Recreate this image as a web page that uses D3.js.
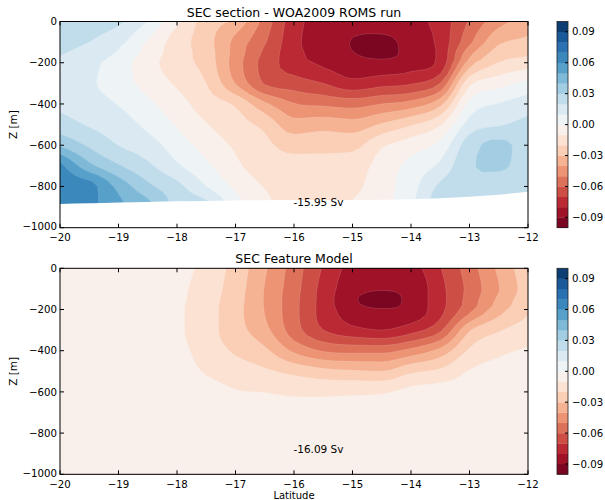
<!DOCTYPE html>
<html><head><meta charset="utf-8">
<script src="https://cdn.jsdelivr.net/npm/d3@7"></script>
<style>
body{margin:0;background:#fff}
svg{display:block}
text{font-family:"DejaVu Sans",sans-serif;fill:#000}
</style>
</head><body>
<svg id="chart" width="605" height="500"></svg>
<script>
// ---------------- data ----------------
const lats   = [-20,-19.5,-19,-18.5,-18,-17.5,-17,-16.5,-16,-15.5,-15,-14.5,-14,-13.5,-13,-12.5,-12];
const depths = [0,100,150,200,300,400,500,600,700,800,900,1000];
const levels = [-0.10,-0.09,-0.08,-0.07,-0.06,-0.05,-0.04,-0.03,-0.02,-0.01,0.00,0.01,0.02,0.03,0.04,0.05,0.06,0.07,0.08,0.09,0.10];
const xTicks = [-20,-19,-18,-17,-16,-15,-14,-13,-12];
const yTicks = [0,-200,-400,-600,-800,-1000];
const cbTicks = [0.09,0.06,0.03,0.00,-0.03,-0.06,-0.09];
const titles = ["SEC section - WOA2009 ROMS run","SEC Feature Model"];
const transports = ["-15.95 Sv","-16.09 Sv"];

// ROMS run velocity section (rows = depths, cols = lats)
const romsField = [
 [0.028,0.026,0.022,0.0095,-0.0085,-0.025,-0.033,-0.054,-0.076,-0.084,-0.087,-0.0865,-0.0835,-0.076,-0.059,-0.044,-0.035],
 [0.024,0.020,0.013,-0.001,-0.015,-0.026,-0.043,-0.059,-0.077,-0.086,-0.0903,-0.0915,-0.087,-0.077,-0.0525,-0.032,-0.028],
 [0.021,0.0165,0.009,-0.0035,-0.0155,-0.025,-0.044,-0.062,-0.0765,-0.085,-0.0898,-0.092,-0.0872,-0.0775,-0.044,-0.026,-0.022],
 [0.018,0.013,0.005,-0.006,-0.016,-0.024,-0.045,-0.064,-0.075,-0.082,-0.086,-0.0875,-0.0845,-0.077,-0.035,-0.0195,-0.015],
 [0.015,0.0115,0.0045,-0.0035,-0.0115,-0.020,-0.0405,-0.061,-0.0655,-0.070,-0.077,-0.0735,-0.071,-0.060,-0.0125,-0.004,0.003],
 [0.018,0.015,0.0095,0.002,-0.006,-0.015,-0.0215,-0.038,-0.0495,-0.052,-0.054,-0.050,-0.046,-0.033,0.003,0.0105,0.015],
 [0.0245,0.019,0.015,0.0075,-0.001,-0.0095,-0.016,-0.023,-0.036,-0.034,-0.036,-0.029,-0.021,-0.011,0.014,0.019,0.023],
 [0.039,0.0285,0.0198,0.0145,0.005,-0.004,-0.0115,-0.0175,-0.024,-0.0235,-0.023,-0.0115,-0.005,0.003,0.026,0.032,0.026],
 [0.063,0.043,0.031,0.022,0.0115,0.002,-0.008,-0.015,-0.016,-0.016,-0.015,-0.006,0.003,0.012,0.029,0.031,0.0265],
 [0.066,0.0635,0.047,0.0325,0.023,0.010,-0.002,-0.0105,-0.014,-0.013,-0.012,-0.0045,0.006,0.022,0.027,0.027,0.026],
 [0.066,0.063,0.052,0.043,0.027,0.023,0.004,-0.008,-0.012,-0.0105,-0.0095,-0.0035,0.0075,0.025,0.026,0.026,0.0255],
 [0.066,0.063,0.052,0.043,0.027,0.023,0.004,-0.008,-0.012,-0.0105,-0.0095,-0.0035,0.0075,0.025,0.026,0.026,0.0255]
];
// ROMS bottom depth (m) along the section
const romsBottom = [885,882,878,875,872,870,868,867,866,866,866,865,862,857,850,840,826];

// SEC feature model section
const modelField = [
 [-0.0005,-0.001,-0.002,-0.0035,-0.006,-0.0135,-0.0237,-0.0387,-0.0547,-0.071,-0.084,-0.0875,-0.0845,-0.0706,-0.055,-0.0381,-0.023],
 [-0.0005,-0.0013,-0.0025,-0.0045,-0.0075,-0.015,-0.025,-0.0405,-0.056,-0.0735,-0.0865,-0.0895,-0.0875,-0.073,-0.057,-0.0405,-0.0245],
 [-0.0005,-0.0014,-0.0028,-0.005,-0.008,-0.0155,-0.0258,-0.0408,-0.0568,-0.074,-0.0886,-0.0925,-0.0875,-0.0735,-0.056,-0.038,-0.023],
 [-0.0005,-0.0015,-0.003,-0.0055,-0.0085,-0.016,-0.0265,-0.0405,-0.057,-0.074,-0.086,-0.0895,-0.087,-0.073,-0.053,-0.034,-0.0215],
 [-0.0005,-0.0015,-0.003,-0.0055,-0.0085,-0.016,-0.026,-0.037,-0.0555,-0.070,-0.077,-0.080,-0.074,-0.062,-0.031,-0.021,-0.015],
 [-0.0005,-0.0013,-0.0025,-0.0045,-0.007,-0.0145,-0.0215,-0.028,-0.042,-0.051,-0.053,-0.053,-0.047,-0.037,-0.0185,-0.012,-0.009],
 [-0.0005,-0.001,-0.002,-0.0035,-0.005,-0.011,-0.015,-0.0185,-0.023,-0.027,-0.029,-0.030,-0.022,-0.018,-0.0095,-0.007,-0.006],
 [-0.0005,-0.0008,-0.0015,-0.0025,-0.0035,-0.006,-0.0095,-0.0102,-0.0115,-0.012,-0.0115,-0.011,-0.0075,-0.006,-0.0055,-0.0045,-0.0045],
 [-0.0005,-0.0007,-0.0012,-0.002,-0.0025,-0.004,-0.0065,-0.007,-0.0075,-0.007,-0.007,-0.0065,-0.005,-0.004,-0.004,-0.0035,-0.0035],
 [-0.0005,-0.0006,-0.001,-0.0015,-0.002,-0.003,-0.0045,-0.005,-0.0055,-0.0055,-0.005,-0.005,-0.004,-0.003,-0.003,-0.0025,-0.0025],
 [-0.0005,-0.0005,-0.0008,-0.0012,-0.0015,-0.0025,-0.0035,-0.004,-0.0045,-0.0045,-0.004,-0.004,-0.0035,-0.0025,-0.0025,-0.002,-0.002],
 [-0.0005,-0.0005,-0.0007,-0.001,-0.001,-0.002,-0.003,-0.0035,-0.004,-0.004,-0.0035,-0.0035,-0.003,-0.002,-0.002,-0.0015,-0.0015]
];

// ---------------- rendering helpers ----------------
const rdbu = ["#67001f","#b2182b","#d6604d","#f4a582","#fddbc7","#f7f7f7","#d1e5f0","#92c5de","#4393c3","#2166ac","#053061"];
function cmap(t){
  const s = Math.max(0,Math.min(1,t))*10, i = Math.min(9,Math.floor(s)), f = s - i;
  return d3.interpolateRgb(rdbu[i], rdbu[i+1])(f);
}
const nBands = levels.length - 1;
const bandColor = d3.range(nBands).map(k => cmap((k+0.5)/nBands));

// monotone cubic (Fritsch-Carlson) resampling used only to draw smooth contour outlines
const UP = 4;
function monoResample(ys){
  const n = ys.length, d = [], m = new Array(n);
  for (let k = 0; k < n-1; k++) d.push(ys[k+1]-ys[k]);
  m[0] = d[0]; m[n-1] = d[n-2];
  for (let k = 1; k < n-1; k++) m[k] = (d[k-1]*d[k] <= 0) ? 0 : (d[k-1]+d[k])/2;
  for (let k = 0; k < n-1; k++){
    if (d[k] === 0){ m[k] = 0; m[k+1] = 0; continue; }
    const a = m[k]/d[k], b = m[k+1]/d[k], s = a*a + b*b;
    if (s > 9){ const t = 3/Math.sqrt(s); m[k] = t*a*d[k]; m[k+1] = t*b*d[k]; }
  }
  const out = [];
  for (let k = 0; k < n-1; k++){
    for (let j = 0; j < UP; j++){
      const t = j/UP, t2 = t*t, t3 = t2*t;
      out.push((2*t3-3*t2+1)*ys[k] + (t3-2*t2+t)*m[k] + (-2*t3+3*t2)*ys[k+1] + (t3-t2)*m[k+1]);
    }
  }
  out.push(ys[n-1]);
  return out;
}
function fineGrid(field){
  const rows = field.map(monoResample);           // along latitude
  const nxf = rows[0].length, cols = [];
  for (let i = 0; i < nxf; i++) cols.push(monoResample(rows.map(r => r[i]))); // along depth
  const nyf = cols[0].length, vals = new Array(nxf*nyf);
  for (let j = 0; j < nyf; j++) for (let i = 0; i < nxf; i++) vals[j*nxf+i] = cols[i][j];
  return {nxf, nyf, vals};
}

const svg = d3.select("#chart");
const X0 = 60, X1 = 528;
const panels = [
  {y0:21.5, y1:227.7, field:romsField, bottom:romsBottom, title:titles[0], label:transports[0], showXLabel:false},
  {y0:268.3, y1:474.3, field:modelField, bottom:null, title:titles[1], label:transports[1], showXLabel:true}
];
const x = d3.scaleLinear().domain([lats[0], lats[lats.length-1]]).range([X0, X1]);
const FS = 10.2;

panels.forEach((p, pi) => {
  const y = d3.scaleLinear().domain([-1000, 0]).range([p.y1, p.y0]);
  const g = svg.append("g");
  const clipId = "clip" + pi;
  svg.append("clipPath").attr("id", clipId).append("rect")
    .attr("x", X0).attr("y", p.y0).attr("width", X1 - X0).attr("height", p.y1 - p.y0);

  const ny = depths.length;
  const fg = fineGrid(p.field);
  const contours = d3.contours().size([fg.nxf, fg.nyf]).thresholds(levels.slice(0, -1))(fg.vals);

  function proj(pt){
    const gx = (pt[0] - 0.5)/UP, gy = (pt[1] - 0.5)/UP;
    const lat = lats[0] + gx * (lats[1] - lats[0]);
    let d;
    if (gy <= 0) d = depths[0] + gy * (depths[1] - depths[0]);
    else if (gy >= ny - 1) d = depths[ny-1] + (gy - (ny-1)) * (depths[ny-1] - depths[ny-2]);
    else { const i = Math.floor(gy), f = gy - i; d = depths[i] + f * (depths[i+1] - depths[i]); }
    return [x(lat), y(-d)];
  }
  function pathOf(geom){
    let s = "";
    geom.coordinates.forEach(poly => poly.forEach(ring => {
      ring.forEach((pt, i) => { const q = proj(pt); s += (i ? "L" : "M") + q[0].toFixed(2) + "," + q[1].toFixed(2); });
      s += "Z";
    }));
    return s;
  }
  const cg = g.append("g").attr("clip-path", `url(#${clipId})`);
  contours.forEach((c, k) => {
    cg.append("path").attr("d", pathOf(c)).attr("fill", bandColor[k]).attr("fill-rule", "evenodd")
      .attr("stroke", bandColor[k]).attr("stroke-width", 0.3);
  });
  // faint seams between filled levels, as in the reference
  contours.forEach((c, k) => {
    if (k === 0) return;
    cg.append("path").attr("d", pathOf(c)).attr("fill", "none")
      .attr("stroke", "#ffffff").attr("stroke-opacity", 0.22).attr("stroke-width", 0.6);
  });

  // masked region below the bottom
  if (p.bottom) {
    const area = d3.area().x((d, i) => x(lats[i])).y0(y(-1000) + 2).y1(d => y(-d)).curve(d3.curveMonotoneX);
    cg.append("path").attr("d", area(p.bottom)).attr("fill", "#fff");
  }

  // frame
  g.append("rect").attr("x", X0).attr("y", p.y0).attr("width", X1 - X0).attr("height", p.y1 - p.y0)
    .attr("fill", "none").attr("stroke", "#000").attr("stroke-width", 1);

  // ticks (inward on all sides)
  const tl = 4;
  xTicks.forEach(v => {
    const xx = x(v);
    g.append("line").attr("x1", xx).attr("x2", xx).attr("y1", p.y1).attr("y2", p.y1 - tl).attr("stroke", "#000");
    g.append("line").attr("x1", xx).attr("x2", xx).attr("y1", p.y0).attr("y2", p.y0 + tl).attr("stroke", "#000");
    g.append("text").attr("x", xx).attr("y", p.y1 + 13.3).attr("text-anchor", "middle").attr("font-size", FS)
      .text(String(v).replace("-", "\u2212"));
  });
  yTicks.forEach(v => {
    const yy = y(v);
    g.append("line").attr("x1", X0).attr("x2", X0 + tl).attr("y1", yy).attr("y2", yy).attr("stroke", "#000");
    g.append("line").attr("x1", X1).attr("x2", X1 - tl).attr("y1", yy).attr("y2", yy).attr("stroke", "#000");
    g.append("text").attr("x", X0 - 3).attr("y", yy + (v === -1000 ? 2.5 : 3.6)).attr("text-anchor", "end").attr("font-size", FS)
      .text(String(v).replace("-", "\u2212"));
  });

  // title, labels, annotation
  g.append("text").attr("x", (X0 + X1) / 2).attr("y", p.y0 - 5).attr("text-anchor", "middle").attr("font-size", 12.5).text(p.title);
  g.append("text").attr("transform", `translate(17,${(p.y0 + p.y1) / 2}) rotate(-90)`).attr("text-anchor", "middle")
    .attr("font-size", 10.5).text("Z [m]");
  g.append("text").attr("x", x(-16.01)).attr("y", y(-900) - 0.8).attr("font-size", 10.5).text(p.label);
  if (p.showXLabel) g.append("text").attr("x", (X0 + X1) / 2).attr("y", 499.3).attr("text-anchor", "middle").attr("font-size", 10).text("Latitude");

  // colorbar
  const cbX = 557, cbW = 11;
  const cy = d3.scaleLinear().domain([levels[0], levels[levels.length-1]]).range([p.y1, p.y0]);
  const cb = svg.append("g");
  d3.range(nBands).forEach(k => {
    cb.append("rect").attr("x", cbX).attr("width", cbW)
      .attr("y", cy(levels[k+1])).attr("height", cy(levels[k]) - cy(levels[k+1]) + 0.3)
      .attr("fill", bandColor[k]);
  });
  cb.append("rect").attr("x", cbX).attr("y", p.y0).attr("width", cbW).attr("height", p.y1 - p.y0)
    .attr("fill", "none").attr("stroke", "#222").attr("stroke-width", 0.8);
  cbTicks.forEach(v => {
    const yy = cy(v);
    cb.append("line").attr("x1", cbX + cbW - 3).attr("x2", cbX + cbW).attr("y1", yy).attr("y2", yy).attr("stroke", "#000");
    cb.append("text").attr("x", cbX + cbW + 4).attr("y", yy + 3.6).attr("font-size", FS)
      .text(d3.format(".2f")(v).replace("-", "\u2212"));
  });
});
</script>
</body></html>
